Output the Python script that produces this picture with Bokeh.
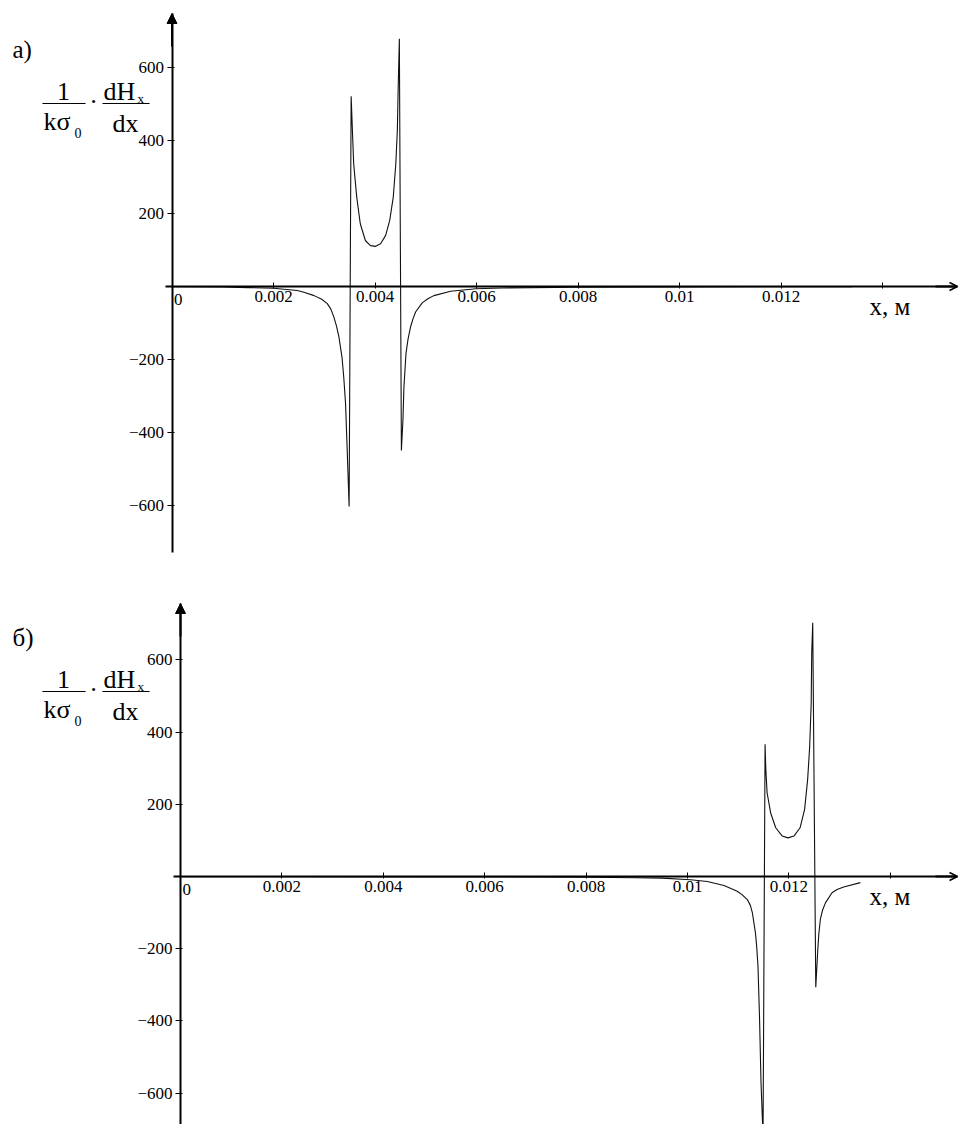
from bokeh.plotting import figure
from bokeh.layouts import column
from bokeh.models import (FixedTicker, Label, Arrow, NormalHead, OpenHead,
                          Range1d, LinearAxis)
from bokeh.embed import file_html
from bokeh.resources import INLINE

# ---------------- data ----------------
# panel а): x in metres, value of (1/kσ0)·dHx/dx
x_a = [0.0000, 0.0010, 0.0015, 0.0020, 0.00247, 0.00260, 0.00280, 0.00295,
       0.00306, 0.00313, 0.00319, 0.00324, 0.00329, 0.00335, 0.003385, 0.00342,
       0.00345, 0.00349, 0.00353, 0.00355, 0.00358, 0.00364, 0.00371, 0.00381,
       0.00391, 0.00401, 0.00411, 0.00421, 0.00429, 0.00436, 0.00441, 0.00444,
       0.00446, 0.00448, 0.00452, 0.00455, 0.00457, 0.00461, 0.00465, 0.00470,
       0.00475, 0.00480, 0.00493, 0.00505, 0.00516, 0.00549, 0.00599, 0.0065,
       0.0080, 0.0100, 0.0134]
y_a = [-0.5, -1.5, -3, -5, -11, -16, -25, -35,
       -47, -62, -84, -108, -139, -194, -250, -321,
       -440, -603, 521, 446, 336, 245, 172, 126,
       112, 110, 117, 140, 181, 245, 336, 427,
       564, 679, -449, -367, -276, -184, -145, -111,
       -88, -70, -45, -33, -25, -13, -6, -4,
       -2, -1, -0.5]

# panel б)
x_b = [0.0000, 0.0050, 0.0080, 0.0090, 0.0095, 0.01006, 0.01039, 0.01072,
       0.01098, 0.01108, 0.01118, 0.01124, 0.01128, 0.01134, 0.011365, 0.01139,
       0.01142, 0.01145, 0.01149, 0.01153, 0.011545, 0.01157, 0.01164, 0.01174,
       0.01187, 0.01198, 0.01210, 0.01222, 0.01231, 0.01237, 0.01241, 0.01244,
       0.01245, 0.01247, 0.01253, 0.01257, 0.01259, 0.01262, 0.01266, 0.01272,
       0.01285, 0.01295, 0.01308, 0.01341]
y_b = [-0.5, -1, -2, -3.5, -4.5, -9, -14, -25,
       -41, -51, -64, -80, -101, -156, -195, -248,
       -387, -571, -720, 366, 296, 232, 176, 135,
       112, 107, 112, 135, 186, 269, 361, 481,
       620, 703, -307, -202, -160, -119, -95, -73,
       -45, -36, -29, -17]

x_ticks = [0.002, 0.004, 0.006, 0.008, 0.010, 0.012, 0.014]
x_tick_labels = ["0.002", "0.004", "0.006", "0.008", "0.01", "0.012", ""]
y_ticks = [-600, -400, -200, 200, 400, 600]
y_tick_labels = ["\u2212600", "\u2212400", "\u2212200", "200", "400", "600"]
panel_letters = ["\u0430)", "\u0431)"]
x_title = "x, \u043c"

# ---------------- layout / styling ----------------
W = 958
SERIF = "Liberation Serif"


def make_panel(xs, ys, ox, oy, sx, sy, top, height, letter, ldy, y_axis_bottom_px):
    # page pixel -> data coordinates (page origin = top-left of the layout)
    def X(px):
        return (px - ox) / sx

    def Y(py):
        return (oy - py) / sy

    p = figure(width=W, height=height,
               x_range=Range1d(X(0), X(W)),
               y_range=Range1d(Y(top + height), Y(top)),
               output_backend="svg", toolbar_location=None, title=None,
               x_axis_type=None, y_axis_type=None, min_border=0,
               outline_line_color=None, background_fill_color="white",
               border_fill_color="white")

    p.line(xs, ys, line_color="#111111", line_width=1.1)

    xaxis = LinearAxis(fixed_location=0, ticker=FixedTicker(ticks=x_ticks),
                       major_label_overrides={t: l for t, l in zip(x_ticks, x_tick_labels)},
                       bounds=(X(ox - 7), X(957)))
    yaxis = LinearAxis(fixed_location=0, ticker=FixedTicker(ticks=y_ticks),
                       major_label_overrides={t: l for t, l in zip(y_ticks, y_tick_labels)},
                       bounds=(Y(y_axis_bottom_px), Y(oy - 273)))
    for ax in (xaxis, yaxis):
        ax.axis_line_width = 2
        ax.axis_line_color = "black"
        ax.major_tick_line_color = "black"
        ax.major_tick_line_width = 1
        ax.minor_tick_in = 0
        ax.minor_tick_out = 0
        ax.major_label_text_font = SERIF
        ax.major_label_text_font_size = "17px"
        ax.major_label_text_color = "black"
    xaxis.major_tick_in = 4
    xaxis.major_tick_out = 2
    xaxis.major_label_standoff = 2
    yaxis.major_tick_in = 2
    yaxis.major_tick_out = 5
    yaxis.major_label_standoff = 3
    p.add_layout(xaxis, "below")
    p.add_layout(yaxis, "left")

    # axis arrow heads
    p.add_layout(Arrow(end=NormalHead(size=10, fill_color="black", line_color="black", line_width=1),
                       x_start=0, y_start=Y(oy - 240), x_end=0, y_end=Y(oy - 273),
                       line_width=2, line_color="black"))
    p.add_layout(Arrow(end=OpenHead(size=8, line_width=1.5, line_color="black"),
                       x_start=X(935), y_start=0, x_end=X(957), y_end=0,
                       line_width=2, line_color="black"))

    # text placed by its baseline (page px); drawn with a middle anchor
    def lab(txt, px, base, size, align="left", dy=0):
        y_mid = base + dy - 0.34 * size
        p.add_layout(Label(x=X(px), y=Y(y_mid), text=txt, text_font=SERIF,
                           text_font_size=f"{size}px", text_align=align,
                           text_baseline="middle", text_color="black"))

    # origin label and axis title
    lab("0", ox + 2, oy + 19, 17)
    lab(x_title, 869, oy + 28, 25)

    # panel letter and y-axis title (fraction)
    lab(letter, 12, 57, 25, dy=ldy)
    lab("1", 63, 100, 26, "center", dy=ldy)
    lab("k\u03c3", 43, 130, 26, dy=ldy)
    lab("0", 74, 137, 14, dy=ldy)
    lab("\u00b7", 93, 110, 26, "center", dy=ldy)
    lab("dH", 103, 100, 26, dy=ldy)
    lab("x", 137, 102, 13, dy=ldy)
    lab("dx", 112, 132, 26, dy=ldy)
    for (a, b) in ((42, 85), (102, 149)):
        p.add_layout(Arrow(end=None, x_start=X(a), y_start=Y(103 + ldy),
                           x_end=X(b), y_end=Y(103 + ldy),
                           line_width=1.2, line_color="black"))
    return p


p_a = make_panel(x_a, y_a, ox=171.5, oy=286, sx=50750, sy=0.365,
                 top=0, height=578, letter=panel_letters[0], ldy=0,
                 y_axis_bottom_px=552)
p_b = make_panel(x_b, y_b, ox=180, oy=876, sx=50700, sy=0.361,
                 top=578, height=546, letter=panel_letters[1], ldy=588,
                 y_axis_bottom_px=1140)

layout = column(p_a, p_b, spacing=0)
open("out.html", "w").write(file_html(layout, INLINE))
